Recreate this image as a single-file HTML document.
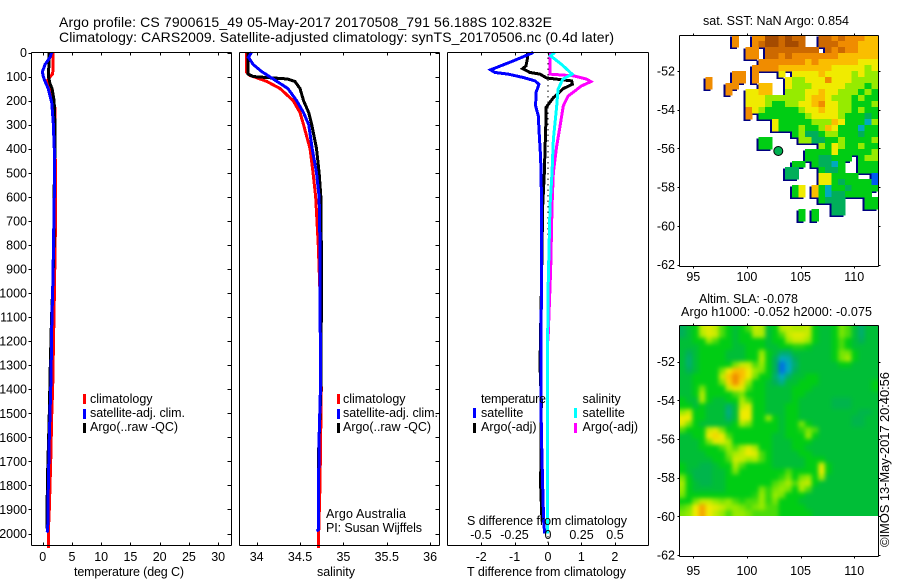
<!DOCTYPE html>
<html lang="en">
<head>
<meta charset="utf-8">
<title>Argo profile 7900615_49</title>
<style>
html,body{margin:0;padding:0;background:#fff;}
svg{display:block;}
text{font-family:"Liberation Sans",sans-serif;fill:#000;}
</style>
</head>
<body>
<svg id="chart" xmlns="http://www.w3.org/2000/svg" width="900" height="580" viewBox="0 0 900 580">
<defs>
<clipPath id="clip-sst"><rect x="679" y="35" width="199" height="231"/></clipPath>
<clipPath id="clip-sla"><rect x="679" y="326" width="199" height="190"/></clipPath>
<filter id="sla-blur" x="-10%" y="-10%" width="120%" height="120%" color-interpolation-filters="sRGB"><feGaussianBlur stdDeviation="2.2"/></filter>
</defs>
<g id="heat-layer"></g>
<g id="plot-layer"></g>
<g id="axis-layer"></g>

<text x="59" y="27" font-size="14" textLength="493" lengthAdjust="spacing">Argo profile: CS 7900615_49 05-May-2017 20170508_791 56.188S 102.832E</text>
<text x="59" y="42" font-size="14" textLength="555" lengthAdjust="spacing">Climatology: CARS2009. Satellite-adjusted climatology: synTS_20170506.nc (0.4d later)</text>

<text x="74" y="576" font-size="12.5" textLength="110" lengthAdjust="spacing">temperature (deg C)</text>
<text x="317" y="576" font-size="12.5" textLength="38" lengthAdjust="spacing">salinity</text>
<text x="467" y="576" font-size="12.5" textLength="159" lengthAdjust="spacing">T difference from climatology</text>
<text x="467" y="525" font-size="12.5" textLength="160" lengthAdjust="spacing">S difference from climatology</text>

<g>
<rect x="83" y="394" width="3" height="10" fill="#f00"/>
<text x="90" y="403" font-size="12.5">climatology</text>
<rect x="83" y="409" width="3" height="10" fill="#00f"/>
<text x="90" y="417" font-size="12.5" textLength="95" lengthAdjust="spacing">satellite-adj. clim.</text>
<rect x="83" y="423" width="3" height="10" fill="#000"/>
<text x="90" y="431" font-size="12.5" textLength="88" lengthAdjust="spacing">Argo(..raw -QC)</text>
</g>
<g>
<rect x="337" y="394" width="3" height="10" fill="#f00"/>
<text x="343" y="403" font-size="12.5">climatology</text>
<rect x="337" y="409" width="3" height="10" fill="#00f"/>
<text x="343" y="417" font-size="12.5" textLength="95" lengthAdjust="spacing">satellite-adj. clim.</text>
<rect x="337" y="423" width="3" height="10" fill="#000"/>
<text x="343" y="431" font-size="12.5" textLength="88" lengthAdjust="spacing">Argo(..raw -QC)</text>
</g>
<g>
<text x="326" y="518" font-size="12.5" textLength="80" lengthAdjust="spacing">Argo Australia</text>
<text x="326" y="532" font-size="12.5" textLength="96" lengthAdjust="spacing">PI: Susan Wijffels</text>
</g>
<g>
<text x="481" y="403" font-size="12.5" textLength="65" lengthAdjust="spacing">temperature</text>
<text x="582.5" y="403" font-size="12.5">salinity</text>
<rect x="473" y="408" width="3" height="10" fill="#00f"/>
<text x="481" y="417" font-size="12.5">satellite</text>
<rect x="473" y="423" width="3" height="10" fill="#000"/>
<text x="481" y="431" font-size="12.5">Argo(-adj)</text>
<rect x="574" y="408" width="3" height="10" fill="#0ff"/>
<text x="582.5" y="417" font-size="12.5">satellite</text>
<rect x="574" y="423" width="3" height="10" fill="#f0f"/>
<text x="582.5" y="431" font-size="12.5">Argo(-adj)</text>
</g>

<text x="703" y="25" font-size="12.5" textLength="146" lengthAdjust="spacing">sat. SST: NaN Argo: 0.854</text>
<text x="699" y="303" font-size="12.5" textLength="99" lengthAdjust="spacing">Altim. SLA: -0.078</text>
<text x="681" y="316" font-size="12.5" textLength="191" lengthAdjust="spacing">Argo h1000: -0.052 h2000: -0.075</text>
<text transform="translate(889,547) rotate(-90)" font-size="13" textLength="175" lengthAdjust="spacing">©IMOS 13-May-2017 20:40:56</text>
<circle cx="778.3" cy="151" r="4.5" fill="#00b050" stroke="#000" stroke-width="1"/>
</svg>

<script>
/* ---------- profile data: depth (m) and values ---------- */
const depthTicks = [0,100,200,300,400,500,600,700,800,900,1000,1100,1200,1300,1400,1500,1600,1700,1800,1900,2000];
const tempTicks = [0,5,10,15,20,25,30];
const salTicks = [34,34.5,35,35.5,36];
const salTickLabels = ['34','34.5','35','35.5','36'];
const tDiffTicks = [-2,-1,0,1,2];
const sDiffTicks = [-0.5,-0.25,0,0.25,0.5];
const sDiffTickLabels = ['-0.5','-0.25','0','0.25','0.5'];
const lonTicks = [95,100,105,110];
const latTicks = [-52,-54,-56,-58,-60,-62];

const tempClimDepth = [0,70,90,100,115,150,200,230,300,600,760,1000,1200,1400,1500,1700,1800,1900,2000,2060];
const tempClimValues = [1.8,1.8,1.65,1.3,0.85,1.25,1.55,2.1,2.1,2.2,2.15,2.0,1.85,1.7,1.55,1.37,1.25,1.13,0.95,0.95];
const tempArgoDepth = [0,50,100,130,150,200,300,400,500,600,750,950,1110,1300,1530,1740,1950,1980];
const tempArgoValues = [1.07,1.05,1.0,1.25,1.6,1.95,2.1,2.1,2.0,1.95,1.95,1.75,1.5,1.3,1.1,0.85,0.7,0.7];
const tempSatDepth = [0,20,50,80,100,120,150,180,210,290,400,600,720,940,1130,1300,1400,1600,1800,1900,1990,1995];
const tempSatValues = [1.54,1.25,0.4,-0.05,0.1,0.4,0.95,1.25,1.55,1.8,1.98,1.98,1.9,1.75,1.55,1.45,1.37,1.13,0.96,0.9,0.85,0.65];

const salClimDepth = [0,80,95,120,150,200,250,300,400,500,600,800,1000,1400,1800,2060];
const salClimValues = [33.885,33.88,33.92,34.115,34.27,34.42,34.5,34.54,34.615,34.65,34.68,34.71,34.73,34.745,34.73,34.71];
const salArgoDepth = [0,90,100,110,120,150,200,250,300,400,500,600,800,1100,1400,1700,1800];
const salArgoValues = [33.9,33.9,33.96,34.35,34.44,34.5,34.54,34.6,34.635,34.69,34.72,34.74,34.745,34.745,34.74,34.71,34.71];
const salSatDepth = [0,20,50,80,110,150,200,250,300,400,500,600,800,1400,1600,1900,1985,1990];
const salSatValues = [33.94,33.905,33.96,34.06,34.19,34.36,34.46,34.54,34.6,34.64,34.69,34.72,34.73,34.735,34.72,34.71,34.71,34.69];

const tSatDiffDepth = [0,35,72,83,90,104,118,132,167,222,264,347,438,639,1000,1400,1570,1800,1950,2000];
const tSatDiffValues = [-0.44,-1.04,-1.72,-1.59,-1.19,-0.74,-0.39,-0.27,-0.36,-0.37,-0.29,-0.26,-0.22,-0.19,-0.2,-0.21,-0.2,-0.16,-0.13,-0.1];
const tArgoDiffDepth = [0,28,56,67,83,90,106,118,132,150,188,229,278,361,500,639,1000,1300,1450,1800,1950];
const tArgoDiffValues = [-0.62,-0.62,-0.66,-0.76,-0.54,-0.24,-0.04,0.71,0.73,0.46,0.16,-0.06,-0.06,-0.08,-0.11,-0.16,-0.2,-0.24,-0.2,-0.22,-0.18];
const sArgoDiffDepth = [0,83,90,97,111,121,139,181,222,306,389,500,639,900,1200];
const sArgoDiffValues = [0.015,0.015,0.015,0.19,0.29,0.32,0.25,0.15,0.114,0.09,0.065,0.04,0.03,0.02,0.0];
const sSatDiffDepth = [0,14,49,90,111,153,222,361,500,639,1000,1400,2000];
const sSatDiffValues = [0.05,0.02,0.1,0.18,0.11,0.075,0.065,0.04,0.03,0.015,0.0,-0.005,-0.005];

/* ---------- map data: colour-scale index per grid cell (_ = no data) ---------- */
const _ = null;
const sstGrid = [
[_,_,_,_,_,_,_,_,7,_,_,7,7,9,9,8,9,8,8,_,_,8,8,7,8,7,7,7,6,6],
[_,_,_,_,_,_,_,_,7,_,_,7,8,9,9,8,9,9,8,_,_,8,8,8,7,7,7,6,6,6],
[_,_,_,_,_,_,_,_,_,_,7,7,_,8,8,8,8,8,8,8,8,_,8,7,8,7,7,6,6,6],
[_,_,_,_,_,_,_,_,_,_,7,7,_,8,8,7,8,7,7,7,7,7,7,7,6,6,6,6,6,6],
[_,_,_,_,_,_,_,_,_,_,_,_,7,7,7,7,7,7,7,6,7,6,6,6,6,6,6,5,5,5],
[_,_,_,_,_,_,_,_,_,_,_,7,7,7,7,6,6,6,6,6,6,6,6,5,5,5,5,5,4,5],
[_,_,_,_,_,_,_,_,7,7,_,7,_,_,_,5,_,5,5,5,5,6,5,5,5,5,4,5,4,4],
[_,_,_,_,7,_,_,_,7,7,_,7,_,_,_,_,5,4,4,5,5,5,7,5,5,5,4,4,4,4],
[_,_,_,_,7,_,_,7,7,_,_,_,6,6,_,_,5,4,4,4,5,5,5,5,5,4,4,4,3,4],
[_,_,_,_,_,_,_,7,_,_,5,5,6,6,_,_,4,4,4,5,5,6,5,5,4,4,4,3,4,3],
[_,_,_,_,_,_,_,_,_,_,5,5,5,4,4,4,4,4,4,5,6,6,5,4,4,4,3,4,3,3],
[_,_,_,_,_,_,_,_,_,_,5,5,5,4,3,3,4,4,5,5,6,7,5,5,4,4,3,3,3,4],
[_,_,_,_,_,_,_,_,_,_,7,5,4,3,3,3,3,3,4,5,5,6,5,5,4,4,3,4,3,3],
[_,_,_,_,_,_,_,_,_,_,7,_,3,3,3,3,3,3,3,4,5,5,5,5,4,3,3,3,2,3],
[_,_,_,_,_,_,_,_,_,_,_,_,_,_,5,3,3,3,3,3,4,4,4,6,5,3,3,3,1,4],
[_,_,_,_,_,_,_,_,_,_,_,_,_,_,5,3,3,3,4,3,3,4,6,5,3,3,3,1,3,3],
[_,_,_,_,_,_,_,_,_,_,_,_,_,_,_,_,_,3,4,2,2,3,4,4,3,3,3,2,3,3],
[_,_,_,_,_,_,_,_,_,_,_,_,3,3,_,_,_,_,4,4,2,2,3,3,4,3,3,3,3,4],
[_,_,_,_,_,_,_,_,_,_,_,_,3,3,_,_,_,_,_,_,_,4,3,5,4,3,3,4,3,3],
[_,_,_,_,_,_,_,_,_,_,_,_,_,_,_,_,_,_,_,3,3,3,3,5,3,3,3,3,3,4],
[_,_,_,_,_,_,_,_,_,_,_,_,_,_,_,_,_,_,_,3,3,2,2,3,3,3,_,3,4,4],
[_,_,_,_,_,_,_,_,_,_,_,_,_,_,_,_,_,3,3,_,3,2,2,1,3,_,_,3,3,3],
[_,_,_,_,_,_,_,_,_,_,_,_,_,_,_,_,2,2,_,_,_,3,2,2,3,_,_,3,3,3],
[_,_,_,_,_,_,_,_,_,_,_,_,_,_,_,_,2,2,_,_,_,5,5,3,3,3,3,_,_,0],
[_,_,_,_,_,_,_,_,_,_,_,_,_,_,_,_,_,_,_,_,_,5,5,3,2,3,3,3,3,0],
[_,_,_,_,_,_,_,_,_,_,_,_,_,_,_,_,_,3,5,_,6,3,1,3,3,2,3,3,3,3],
[_,_,_,_,_,_,_,_,_,_,_,_,_,_,_,_,_,3,5,_,6,3,1,2,2,3,3,3,3,_],
[_,_,_,_,_,_,_,_,_,_,_,_,_,_,_,_,_,_,_,_,_,3,2,2,2,_,_,_,3,3],
[_,_,_,_,_,_,_,_,_,_,_,_,_,_,_,_,_,_,_,_,_,_,_,2,2,_,_,_,3,3],
[_,_,_,_,_,_,_,_,_,_,_,_,_,_,_,_,_,_,3,_,3,_,_,2,2,_,_,_,_,_],
[_,_,_,_,_,_,_,_,_,_,_,_,_,_,_,_,_,_,3,_,3,_,_,_,_,_,_,_,_,_]
];
const slaGrid = [
[2,2.5,3,4.5,4.8,4.5,3.5,3,2.5,3,3.5,4.5,4.3,2.5,3,4.3,4.5,4.3,4.3,4.5,3,2.5,2.5,3,3.8,3.5,2.5,1.8,2.5,2.5],
[2,2.5,3,4.3,4.8,4.6,3.5,3,2.5,3,3,4.3,4.3,2.5,3,3.5,4.5,4.8,4.8,4.5,3,2.5,2.5,3,3.8,3.5,2.5,1.8,2.5,2.5],
[2.5,2.5,3,3,4,3.5,3,3,2.5,3,3,3,3,2.5,3,3,4,4.5,4.5,4,3,2.5,2.5,3,3.5,3,2.5,2,2.5,2.5],
[2.5,2.5,2.5,3,3,3,3,3,2.5,2.5,3,3,3,2.5,2.5,3,3,3.2,3.2,3,2.5,2.5,2.5,3,3.5,3,2.5,2.5,2.5,2.5],
[2.5,2,2.5,3,3,3,3,2.5,2.5,2.5,3,3,4,3,2.5,1.8,1.8,2.5,2.5,2.5,2.5,2.5,2.5,3,3.8,3.8,3,2.5,2.5,2.5],
[2.5,1.8,2.5,3,3,3,3,2.5,2.5,2.5,3,3,4.3,3,2,1,1.2,2,2.5,2.5,2.5,2.5,2.5,3,3.8,4.2,3,2.5,2.5,2.5],
[2.5,1.8,2.5,3,3,3,3,3,3.8,4.5,4.5,3.5,4,3,2,0.3,1,1.8,2.5,2.5,2.5,2.5,2.5,2.5,3,3,2.5,2.5,2.5,2.5],
[2.5,2,2.5,3,3,3,3.8,5,6,6,5,4,3.8,3,2,0.3,1,2,2.5,2.5,2.5,2.5,2.5,2.5,2.5,2.5,2.5,2.5,2.5,2.5],
[2.5,2.5,3,3,3,3,4.5,5.8,7,6,5,3.8,3,3,1.8,1,1.8,2.5,2.5,3,3,2.5,2.5,2.5,2.5,2.5,2.5,2.5,2.5,2.5],
[2.5,2.5,3,3,3,3,3.8,5.5,7,5.5,4,3,3,2.5,2,1.5,2.5,2.5,3,3,3,2.5,2.5,2.5,2.5,2.5,2.5,2.5,2.5,3],
[2.5,2.5,3,3.8,3,3,3,4.5,5.2,4.8,3.5,3,3,2.5,2.5,2.5,2.5,3,3,3,2.5,2.5,2.5,2.5,2.5,2.5,2.5,2.5,2.5,3],
[2.5,2.5,3,4.3,3,3,3,3,3.5,3.8,3,3,3,2.5,2.5,2.5,2.5,3,3,2.5,2.5,2.5,2.5,2.5,2.5,2.5,2.5,2.5,2.5,2.5],
[3,2.5,2.5,4.2,3,2.5,2.5,3,3,4.2,3.5,3,3,2.5,2.5,2.5,2.5,3,2.5,2.5,2.5,2.5,2.5,2.2,2.2,2.2,2.5,2.5,2.5,2.5],
[3,3,2.5,3,2.5,2.5,2.5,1.8,2.5,4.5,4.8,3,3,2.5,2.5,2.5,3,3,2.5,2.5,2.5,2.5,2.5,2.2,2.2,2.2,2.5,2.5,2.5,2.5],
[4,4.5,3,3,2.5,2.5,2.5,1.6,2.5,5,5,3,3,2.5,2.5,2.5,3,3,2.5,2.5,2.5,2.5,2.5,2.5,2.5,2.5,2.5,2.2,2.2,2.5],
[5,5,3,3,2.5,2.5,2.5,1.8,2.5,5,5,3,3,4,3,2.5,3,3,2.5,2.5,2.5,2.5,2.5,2.5,2.5,2.5,2.2,2.2,2.5,2.5],
[4.8,3.8,3,2.5,2.5,2.5,2.5,2.5,3,4.2,3.8,3,3,3,3,2.5,3,3,3.8,3,2.5,2.5,2.5,2.5,2.5,2.5,2.2,2.2,2.5,2.5],
[3.5,3,3,3,4.5,4.8,3.8,3,3,3,3,3,3,3,3,2.5,3,3,3.3,3.8,3.5,2.5,2.5,2.5,2.5,2.5,2.5,2.5,2.5,2.5],
[2.5,2.5,3,3,5,5.5,5,3.5,3,3,3,3,3,3,2.5,2.5,3,3,3,4,3,2.5,2.5,2.5,2.5,2.5,2.5,2.5,2.5,2.5],
[2.5,2.5,2.5,3,3.8,4.8,4.8,4.2,3,3,3,3,3,3,2.5,2.5,2.5,3,3,3,2.5,2.5,2.5,2.5,2.5,2.5,2.5,2.5,2.5,2.5],
[2.5,2.5,2.5,3,3,3,3.5,4,3.5,4.2,4.8,4.2,3,3,2.5,2.5,2.5,3,3,2.5,2.5,2.5,2.5,2.5,2.5,2.5,2.5,2.5,2.5,2.5],
[2.5,2.5,2.5,2.5,3,3,3,3.8,4.2,4.5,5,4.8,3.5,3,2.5,2.5,2.5,2.5,3,3,2.5,2.5,2.5,2.5,2.5,2.5,2.5,2.5,2.5,2.5],
[2.5,2.5,2.5,2.5,2.5,3,3,3.5,4.6,4.5,4,4.2,3.5,3,2.5,2.5,2.5,2.5,2.5,3,3,3,2.5,2.5,2.5,2.5,2.5,2.5,2.5,2.5],
[3,2.5,2.5,2.2,2.2,2.5,3,3,4.2,3.5,3,3,3,3,2.5,2.5,2.5,2.5,2.5,3,3,4.8,3,2.5,2.5,2.5,2.5,2.5,2.5,2.5],
[3,2.5,2.2,2.2,2.2,2.5,2.5,3,3.8,3,3,3,3,3,3,3,3.5,3,3,3,3,5,3,2.5,2.5,2.5,2.5,2.5,2.5,2.5],
[3.8,3,2.2,2.2,2.2,2.5,2.5,3,3,3,3,3,3,3,3,3.3,3.8,3,3.8,4,3,4.2,2.5,2.5,2.5,2.5,2.5,2.5,2.5,2.5],
[4.2,3,2.5,2.2,2.2,2.5,2.5,3,3,3,3,3,3,3,3.5,3.8,4.2,3.5,4.3,4.5,3,2.5,2.5,2.5,2.5,2.5,2.5,2.5,2.5,2.5],
[4,3,2.5,2.5,2.5,2.5,2.5,3,3,3,3,3,3.8,3.3,3.8,4,3.8,3,4.2,3.5,2.5,2.5,2.5,2.5,2.5,2.5,2.5,2.5,2.5,2.5],
[3.8,3,3,3,3,3,3,3,3,3,3,3.2,4,3.3,4,3.8,3,3,3,2.5,2.5,2.5,2.5,2.5,2.5,2.5,2.5,2.5,2.5,2.5],
[3,3,3.8,4.5,4.5,4,3.8,4,3.5,3.2,3.5,3.5,4,3.3,3.8,3,3,3,2.5,2.5,2.5,2.5,2.5,2.5,2.5,2.5,2.5,2.5,2.5,2.5],
[3.5,3.8,5,6.5,5,4.8,4.5,4,4,3.8,3.5,3.8,4,3.5,3.5,3,3,3,3,2.5,2.5,2.5,2.5,2.5,2.5,2.5,2.5,2.5,2.5,2.5],
[3.8,4,5,6.5,5,4.5,4,3.5,4,4,3.8,3.5,3.5,3.5,3.5,3,3,3,3,3,2.5,2.5,2.5,2.5,2.5,2.5,2.5,2.5,2.5,2.5]
];

/* ---------- colour scale (index 0 to 9) ---------- */
const colourStops = [[0,90,240],[0,170,190],[0,175,90],[0,205,20],[150,235,0],[240,235,0],[250,190,0],[240,140,0],[205,105,0],[165,75,0]];
function colour(v){
  const t = Math.max(0,Math.min(9,v));
  const i = Math.min(8,Math.floor(t));
  const f = t-i;
  const a = colourStops[i], b = colourStops[i+1];
  return 'rgb('+Math.round(a[0]+(b[0]-a[0])*f)+','+Math.round(a[1]+(b[1]-a[1])*f)+','+Math.round(a[2]+(b[2]-a[2])*f)+')';
}

/* ---------- axis functions ---------- */
const yDepth = d => 52.5+d*0.2405;
const xTemp = v => 42.7+v*5.85;
const xSal = v => 256.7+(v-34)*86.7;
const xTDiff = v => 548+v*33.4;
const xSDiff = v => 548+v*134;
const xLon = v => 693.3+(v-95)*10.73;
const ySstLat = v => 71+(-52-v)*19.35;
const ySlaLat = v => 361.7+(-52-v)*19.33;
const gridX = c => 679+c*199/30;
const sstY = r => 35+r*6;
const slaY = r => 326+r*190/32;

const NS = 'http://www.w3.org/2000/svg';
const heat = document.getElementById('heat-layer');
const plot = document.getElementById('plot-layer');
const axes = document.getElementById('axis-layer');

function make(parent,tag,attrs,txt){
  const el = document.createElementNS(NS,tag);
  for(const k in attrs) el.setAttribute(k,attrs[k]);
  if(txt!==undefined) el.textContent = txt;
  parent.appendChild(el);
  return el;
}

/* ---------- SST map ---------- */
const sstGroup = make(heat,'g',{'clip-path':'url(#clip-sst)'});


sstGrid.forEach(function(row,r){
  row.forEach(function(v,c){
    if(v===null) return;
    const shadow = make(sstGroup,'rect',{x:gridX(c)-2,y:sstY(r)+1.5,width:199/30+0.5,height:6.5,fill:'#000080','shape-rendering':'crispEdges'});
    
    
  });
});
sstGrid.forEach(function(row,r){
  row.forEach(function(v,c){
    if(v===null) return;
    const cell = make(sstGroup,'rect',{x:gridX(c),y:sstY(r),width:199/30+0.5,height:6.5,fill:colour(v),'shape-rendering':'crispEdges'});
    
    
  });
});

/* ---------- SLA map ---------- */
const slaClip = make(heat,'g',{'clip-path':'url(#clip-sla)'});


const slaBlur = make(slaClip,'g',{filter:'url(#sla-blur)'});


slaGrid.forEach(function(row,r){
  row.forEach(function(v,c){
    const padL = c===0?12:0, padR = c===row.length-1?12:0, padT = r===0?12:0, padB = r===slaGrid.length-1?12:0;
    const cell = make(slaBlur,'rect',{x:gridX(c)-padL,y:slaY(r)-padT,width:199/30+0.5+padL+padR,height:190/32+0.5+padT+padB,fill:colour(v)});
    
    
  });
});

/* ---------- profile lines ---------- */
function line(xf,depths,values,colourName,name){
  const pts = depths.map(function(d,i){return xf(values[i]).toFixed(2)+','+yDepth(d).toFixed(2);}).join(' ');
  const p = make(plot,'polyline',{points:pts,fill:'none',stroke:colourName,'stroke-width':3,'stroke-linejoin':'miter','shape-rendering':'crispEdges'});
  
  
}
line(xTemp,tempClimDepth,tempClimValues,'#f00','temperature-climatology-line');
line(xTemp,tempArgoDepth,tempArgoValues,'#000','temperature-argo-line');
line(xTemp,tempSatDepth,tempSatValues,'#00f','temperature-satellite-line');
line(xSal,salClimDepth,salClimValues,'#f00','salinity-climatology-line');
line(xSal,salArgoDepth,salArgoValues,'#000','salinity-argo-line');
line(xSal,salSatDepth,salSatValues,'#00f','salinity-satellite-line');

const zeroLine = make(plot,'line',{x1:xTDiff(0),x2:xTDiff(0),y1:52,y2:546,stroke:'#000','stroke-width':1,'stroke-dasharray':'1.5 4'});


line(xTDiff,tArgoDiffDepth,tArgoDiffValues,'#000','t-difference-argo-line');
line(xTDiff,tSatDiffDepth,tSatDiffValues,'#00f','t-difference-satellite-line');
line(xSDiff,sArgoDiffDepth,sArgoDiffValues,'#f0f','s-difference-argo-line');
line(xSDiff,sSatDiffDepth,sSatDiffValues,'#0ff','s-difference-satellite-line');

/* ---------- axes ---------- */
function seg(x1,y1,x2,y2,name){
  const s = make(axes,'line',{x1:x1,y1:y1,x2:x2,y2:y2,stroke:'#000','stroke-width':1,'shape-rendering':'crispEdges'});
  
  
}
function label(x,y,str,anchor,name,size){
  const t = make(axes,'text',{x:x,y:y,'text-anchor':anchor,'font-size':size||12.5},str);
  
  
}
function panelFrame(x1,x2,y1,y2,name){
  seg(x1,y1,x2,y1,name+'-top');
  seg(x1,y2,x2,y2,name+'-bottom');
  seg(x1,y1,x1,y2,name+'-left');
  seg(x2,y1,x2,y2,name+'-right');
}
const TOP = 52.5, BOT = 545.5;
panelFrame(31.5,231.5,TOP,BOT,'temperature-panel-frame');
panelFrame(239.5,439.5,TOP,BOT,'salinity-panel-frame');
panelFrame(447.5,648.5,TOP,BOT,'difference-panel-frame');

depthTicks.forEach(function(d){
  const y = Math.round(yDepth(d))+0.5;
  seg(28.5,y,31.5,y,'depth-tick-left');
  seg(227.5,y,231.5,y,'temperature-depth-tick-right');
  seg(435.5,y,439.5,y,'salinity-depth-tick-right');
  label(27,yDepth(d)+4.5,String(d),'end','depth-tick-label');
});
tempTicks.forEach(function(v){
  const x = Math.round(xTemp(v))+0.5;
  seg(x,TOP,x,TOP+3,'temperature-tick-top');
  seg(x,BOT-3,x,BOT,'temperature-tick-bottom');
  label(xTemp(v),561,String(v),'middle','temperature-tick-label');
});
salTicks.forEach(function(v,i){
  const x = Math.round(xSal(v))+0.5;
  seg(x,TOP,x,TOP+3,'salinity-tick-top');
  seg(x,BOT-3,x,BOT,'salinity-tick-bottom');
  label(xSal(v),561,salTickLabels[i],'middle','salinity-tick-label');
});
tDiffTicks.forEach(function(v){
  const x = Math.round(xTDiff(v))+0.5;
  seg(x,TOP,x,TOP+3,'t-difference-tick-top');
  seg(x,BOT-3,x,BOT,'t-difference-tick-bottom');
  label(xTDiff(v),561,String(v),'middle','t-difference-tick-label');
});
sDiffTicks.forEach(function(v,i){
  label(xSDiff(v),539,sDiffTickLabels[i],'middle','s-difference-tick-label');
});

/* ---------- map axes ---------- */
function mapAxes(top,bottom,latFn,labelY,name){
  panelFrame(679.5,878.5,top,bottom,name+'-frame');
  lonTicks.forEach(function(v){
    const x = Math.round(xLon(v))+0.5;
    seg(x,top-2,x,top,name+'-lon-tick-top');
    seg(x,bottom,x,bottom+2,name+'-lon-tick-bottom');
    label(xLon(v),labelY,String(v),'middle',name+'-lon-label');
  });
  latTicks.forEach(function(v){
    const y = Math.round(latFn(v))+0.5;
    seg(677.5,y,679.5,y,name+'-lat-tick-left');
    seg(878.5,y,880.5,y,name+'-lat-tick-right');
    label(675,latFn(v)+4.5,String(v),'end',name+'-lat-label');
  });
}
mapAxes(35.5,266.5,ySstLat,281,'sst-map');
mapAxes(325.5,556.5,ySlaLat,575,'sla-map');
</script>
</body>
</html>
